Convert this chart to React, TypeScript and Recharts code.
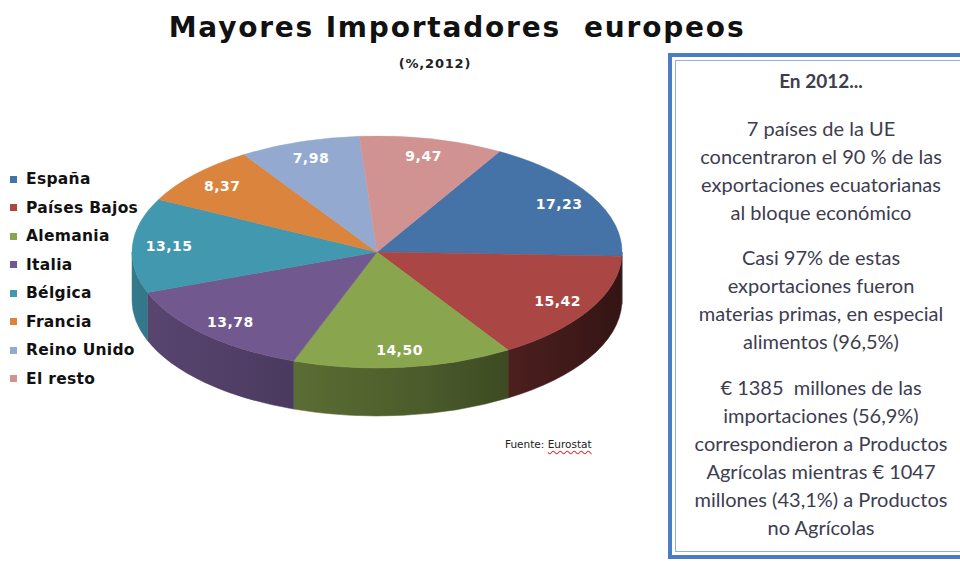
import React from 'react';
import { PieChart, Pie, Cell, Legend } from 'recharts';

const countries = ['España', 'Países Bajos', 'Alemania', 'Italia', 'Bélgica', 'Francia', 'Reino Unido', 'El resto'];
const shares = [17.23, 15.42, 14.5, 13.78, 13.15, 8.37, 7.98, 9.47];
const colors = ['#4572A7', '#AA4643', '#89A54E', '#71588F', '#4198AF', '#DB843D', '#93A9CF', '#D19392'];

const boxLines1 = ['7 países de la UE', 'concentraron el 90 % de las', 'exportaciones ecuatorianas', 'al bloque económico'];
const boxLines2 = ['Casi 97% de estas', 'exportaciones fueron', 'materias primas, en especial', 'alimentos (96,5%)'];
const boxLines3 = ['€ 1385  millones de las', 'importaciones (56,9%)', 'correspondieron a Productos', 'Agrícolas mientras € 1047', 'millones (43,1%) a Productos', 'no Agrícolas'];

const data = countries.map((name, i) => ({ name, value: shares[i] }));

const RAD = Math.PI / 180;
const RATIO = 116 / 245;
const DEPTH = 48;

function shade(hex: string, f: number) {
  const n = parseInt(hex.slice(1), 16);
  const r = Math.round(((n >> 16) & 255) * f);
  const g = Math.round(((n >> 8) & 255) * f);
  const b = Math.round((n & 255) * f);
  return `rgb(${r},${g},${b})`;
}

const Slice3D = (props: any) => {
  const { cx, cy, outerRadius, startAngle, endAngle, fill } = props;
  const rx = outerRadius;
  const ry = outerRadius * RATIO;
  const pt = (a: number, dy = 0) => `${cx + rx * Math.cos(a * RAD)},${cy - ry * Math.sin(a * RAD) + dy}`;
  const s = Math.max(startAngle, endAngle);
  const e = Math.min(startAngle, endAngle);
  const large = s - e > 180 ? 1 : 0;
  const top = `M${cx},${cy} L${pt(s)} A${rx},${ry} 0 ${large} 1 ${pt(e)} Z`;
  const sides: string[] = [];
  for (let k = -2; k <= 1; k++) {
    const a1 = Math.min(s, 360 * k);
    const a2 = Math.max(e, -180 + 360 * k);
    if (a1 > a2) {
      sides.push(
        `M${pt(a1)} A${rx},${ry} 0 0 1 ${pt(a2)} L${pt(a2, DEPTH)} A${rx},${ry} 0 0 0 ${pt(a1, DEPTH)} Z`
      );
    }
  }
  const gid = 'side' + String(fill).replace('#', '');
  return (
    <g>
      <defs>
        <linearGradient id={gid} gradientUnits="userSpaceOnUse" x1={cx - rx} y1={0} x2={cx + rx} y2={0}>
          <stop offset="0%" stopColor={shade(fill, 0.8)} />
          <stop offset="60%" stopColor={shade(fill, 0.55)} />
          <stop offset="100%" stopColor={shade(fill, 0.3)} />
        </linearGradient>
      </defs>
      {sides.map((d, i) => (
        <path key={i} d={d} fill={`url(#${gid})`} stroke={`url(#${gid})`} strokeWidth={0.5} />
      ))}
      <path d={top} fill={fill} stroke={fill} strokeWidth={0.5} />
    </g>
  );
};

const renderLabel = (p: any) => {
  const { cx, cy, midAngle, outerRadius, value } = p;
  const k = 0.85;
  const x = cx + outerRadius * k * Math.cos(midAngle * RAD);
  const y = cy - outerRadius * RATIO * k * Math.sin(midAngle * RAD);
  return (
    <text
      x={x}
      y={y}
      fill="#ffffff"
      textAnchor="middle"
      dominantBaseline="central"
      fontFamily="DejaVu Sans, sans-serif"
      fontWeight="bold"
      fontSize={14}
      letterSpacing={0.5}
    >
      {Number(value).toFixed(2).replace('.', ',')}
    </text>
  );
};

const LegendContent = () => (
  <div style={{ fontFamily: 'DejaVu Sans, sans-serif', fontWeight: 'bold', fontSize: 15.5, letterSpacing: 0.3, color: '#111' }}>
    {countries.map((c, i) => (
      <div key={c} style={{ height: 28.5, display: 'flex', alignItems: 'center' }}>
        <span style={{ display: 'inline-block', width: 7, height: 7, background: colors[i], marginRight: 9 }} />
        <span>{c}</span>
      </div>
    ))}
  </div>
);

export default function App() {
  const boxText: React.CSSProperties = {
    fontFamily: 'Lato, sans-serif',
    fontSize: 20,
    color: '#3d3d50',
    textAlign: 'center',
    lineHeight: '28px',
  };
  return (
    <div style={{ position: 'absolute', left: 0, top: 0, width: 960, height: 561, background: '#fff', overflow: 'hidden' }}>
      <div
        style={{
          position: 'absolute',
          left: 0,
          width: 914,
          top: 11,
          textAlign: 'center',
          fontFamily: 'DejaVu Sans, sans-serif',
          fontWeight: 'bold',
          fontSize: 28,
          letterSpacing: 1.8,
          color: '#111',
          whiteSpace: 'pre',
        }}
      >
        {'Mayores Importadores  europeos'}
      </div>
      <div
        style={{
          position: 'absolute',
          left: 335,
          width: 200,
          top: 56,
          textAlign: 'center',
          fontFamily: 'DejaVu Sans, sans-serif',
          fontWeight: 'bold',
          fontSize: 13,
          letterSpacing: 0.8,
          color: '#222',
        }}
      >
        (%,2012)
      </div>
      <div style={{ position: 'absolute', left: 0, top: 0 }}>
        <PieChart width={960} height={561}>
          <Legend
            layout="vertical"
            align="center"
            verticalAlign="middle"
            content={<LegendContent />}
            wrapperStyle={{ left: 10, top: 165, width: 160 }}
          />
          <Pie
            data={data}
            dataKey="value"
            nameKey="name"
            cx={372}
            cy={247}
            outerRadius={245}
            startAngle={60}
            endAngle={-300}
            isAnimationActive={false}
            label={renderLabel}
            labelLine={false}
            shape={Slice3D}
            stroke="none"
          >
            {data.map((d, i) => (
              <Cell key={d.name} fill={colors[i]} />
            ))}
          </Pie>
        </PieChart>
      </div>
      <div
        style={{
          position: 'absolute',
          left: 505,
          top: 438,
          fontFamily: 'DejaVu Sans, sans-serif',
          fontSize: 10.5,
          color: '#222',
        }}
      >
        Fuente:{' '}
        <span style={{ textDecoration: 'underline wavy #d33', textUnderlineOffset: 2 }}>Eurostat</span>
      </div>
      <div
        style={{
          position: 'absolute',
          left: 668,
          top: 53,
          width: 320,
          height: 498,
          border: '4px solid #4a7dc3',
          background: '#fff',
        }}
      >
        <div
          style={{
            position: 'absolute',
            left: 3,
            top: 3,
            right: 3,
            bottom: 3,
            border: '1px solid #8fb0dc',
          }}
        />
        <div style={{ position: 'absolute', left: 6, width: 286, top: 0 }}>
          <div style={{ ...boxText, fontWeight: 'bold', fontSize: 19, marginTop: 10 }}>En 2012...</div>
          <div style={{ ...boxText, marginTop: 19 }}>
            {boxLines1.map((l) => (
              <div key={l}>{l}</div>
            ))}
          </div>
          <div style={{ ...boxText, marginTop: 17 }}>
            {boxLines2.map((l) => (
              <div key={l}>{l}</div>
            ))}
          </div>
          <div style={{ ...boxText, marginTop: 18, whiteSpace: 'pre' }}>
            {boxLines3.map((l) => (
              <div key={l}>{l}</div>
            ))}
          </div>
        </div>
      </div>
    </div>
  );
}
